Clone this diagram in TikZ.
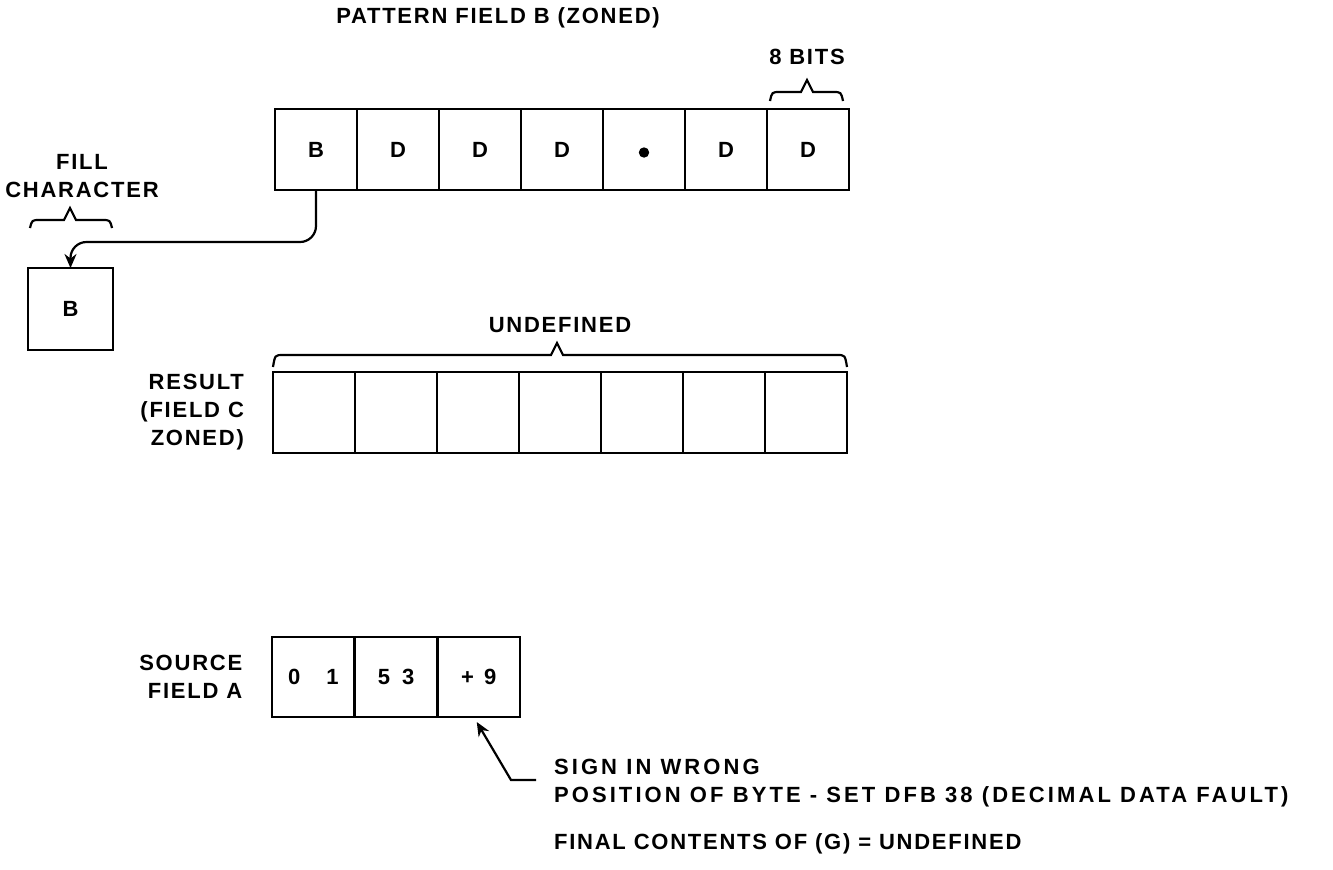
\documentclass[tikz,border=0pt]{standalone}
\usepackage{fontspec}
\setmainfont{Liberation Sans}[LetterSpace=8]
\usetikzlibrary{arrows.meta,positioning,calc}

% flat brace with a pointed middle: left, peak, right, tip y, top y
\newcommand{\bytebrace}[5]{%
  \draw (#1,#4) .. controls ({#1+2},#5) .. ({#1+10},#5) -- ({#2-6},#5) -- (#2,{#5-12})
    -- ({#2+6},#5) -- ({#3-10},#5) .. controls ({#3-2},#5) .. (#3,#4);}

\begin{document}
\begin{tikzpicture}[
  x=0.5pt,y=-0.5pt,
  font=\fontsize{11}{14}\selectfont\bfseries,
  line width=1.1pt,
  cell/.style={draw,minimum width=41pt,minimum height=40.5pt,inner sep=0pt,outer sep=0pt},
  tag/.style={align=right,inner sep=0pt},
  arrow/.style={-{Stealth[length=7pt,width=6pt]}}
]
\useasboundingbox (0,0) rectangle (1333,869);

% pattern field
\node (title) at (498,18) {PATTERN FIELD B (ZONED)};
\foreach \t [count=\i] in {B,D,D,D,{},D,D}
  \node[cell] (p\i) at ({275+82*(\i-0.5)},149.5) {\t};
\fill ($(p5.center)+(0,3)$) circle (2.6pt);
\bytebrace{770}{807}{843}{101}{92}
\node (bits) at (807,57) {8 BITS};

% fill character
\node[cell,minimum width=42.5pt,minimum height=41pt] (fillbox) at (70.5,309) {B};
\bytebrace{30}{70}{112}{228}{220}
\node[align=center,inner sep=0pt] (filltag) at (82,176) {FILL\\CHARACTER};
\draw[arrow,rounded corners=8pt] (p1.south) |- ($(fillbox.north)+(0,-26)$) -- (fillbox.north);

% result
\foreach \i in {1,...,7}
  \node[cell] (r\i) at ({273+82*(\i-0.5)},412.5) {};
\bytebrace{273}{557}{847}{367}{355}
\node (undef) at (560,325) {UNDEFINED};
\node[tag,left=14pt of r1] (result) {RESULT\\(FIELD C\\ZONED)};

% source
\foreach \t [count=\i] in {{0\hspace{13pt}1},{5\hspace{6pt}3},{+\hspace{5pt}9}}
  \node[cell,minimum height=40pt] (a\i) at ({272+82.7*(\i-0.5)},677) {\t};
\node[tag,left=14.5pt of a1] (source) {SOURCE\\FIELD A};

% notes
\node[anchor=west,align=left,inner sep=0pt,font=\fontsize{11}{14}\selectfont\bfseries\addfontfeatures{LetterSpace=14}]
  (note) at (553,783) {SIGN IN WRONG\\POSITION OF BYTE - SET DFB 38 (DECIMAL DATA FAULT)};
\node[anchor=west,inner sep=0pt] (final) at (553,844) {FINAL CONTENTS OF (G) = UNDEFINED};
\coordinate (noteend) at (536,780);
\coordinate (elbow) at (511,780);
\coordinate (signtip) at ($(a3.south west)+(39,5)$);
\draw[arrow] (noteend) -- (elbow) -- (signtip);
\end{tikzpicture}
\end{document}
